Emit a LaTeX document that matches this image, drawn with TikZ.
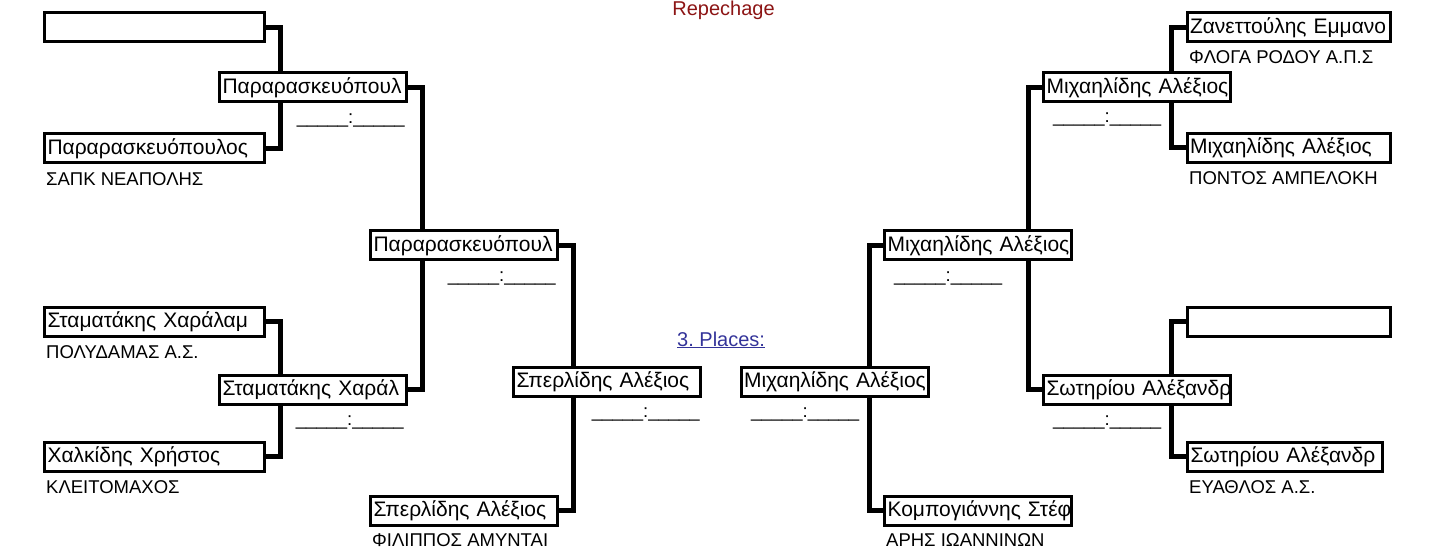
\documentclass[tikz,border=0pt]{standalone}
\usepackage{fontspec}
\setmainfont{Liberation Sans}
\usepackage{xcolor}
\usepackage{tikz}
\usetikzlibrary{backgrounds}
\definecolor{repred}{RGB}{140,20,20}
\definecolor{linkblue}{RGB}{51,51,153}

\begin{document}
\begin{tikzpicture}[x=1pt,y=-1pt,
		player/.style={draw,line width=3pt,fill=white,inner xsep=3pt,inner ysep=0pt,minimum height=29pt,
			text height=15.5pt,text depth=3.5pt,align=left,font=\fontsize{21}{25}\selectfont},
		first/.style={player,text width=214pt},
		second/.style={player,text width=181pt},
		club/.style={anchor=base west,inner sep=0pt,font=\fontsize{18.5}{22}\selectfont},
		score/.style={inner sep=0pt,font=\fontsize{18.5}{22}\selectfont},
		wire/.style={draw,line width=5pt}]
		\useasboundingbox (0,0) rectangle (1440,547);
		% titles
		\node[anchor=base,inner sep=0pt,text=repred,font=\fontsize{20}{24}\selectfont] (rep) at (723.5,15) {Repechage};
		\node[anchor=base west,inner sep=0pt,text=linkblue,font=\fontsize{20}{24}\selectfont] (pl) at (677,346) {\underline{3.\ Places:}};
		% left side
		\node[first] (A1) at (154.5,27) {};
		\node[first] (A2) at (154.5,148) {Παραρασκευόπουλος};
		\node[first] (A3) at (154.5,321.5) {Σταματάκης~Χαράλαμ};
		\node[first] (A4) at (154.5,456.5) {Χαλκίδης~Χρήστος};
		\node[second] (B1) at (313,87) {Παραρασκευόπουλ};
		\node[second] (B2) at (313,389.5) {Σταματάκης~Χαράλ};
		\node[second] (C1) at (464,245) {Παραρασκευόπουλ};
		\node[second] (D1) at (607,381.5) {Σπερλίδης~Αλέξιος};
		\node[second] (D2) at (464,510.5) {Σπερλίδης~Αλέξιος};
		% right side
		\node[player,text width=197pt] (E1) at (1288.5,27) {Ζανεττούλης~Εμμανο};
		\node[player,text width=197pt] (E2) at (1288.5,147.5) {Μιχαηλίδης~Αλέξιος};
		\node[player,text width=197pt] (E3) at (1288.5,321.5) {};
		\node[player,text width=189pt] (E4) at (1285,456.5) {Σωτηρίου~Αλέξανδρ};
		\node[second] (F1) at (1137,87) {Μιχαηλίδης~Αλέξιος};
		\node[second] (F2) at (1137,389.5) {Σωτηρίου~Αλέξανδρ};
		\node[second] (G1) at (978,245) {Μιχαηλίδης~Αλέξιος};
		\node[second] (H1) at (834.5,381.5) {Μιχαηλίδης~Αλέξιος};
		\node[second] (H2) at (978,510.5) {Κομπογιάννης~Στέφ};
		% clubs
		\node[club] (a2) at (46,185) {ΣΑΠΚ ΝΕΑΠΟΛΗΣ};
		\node[club] (a3) at (46,358) {ΠΟΛΥΔΑΜΑΣ Α.Σ.};
		\node[club] (a4) at (46,493) {ΚΛΕΙΤΟΜΑΧΟΣ};
		\node[club] (d2) at (372,546) {ΦΙΛΙΠΠΟΣ ΑΜΥΝΤΑΙ};
		\node[club] (e1) at (1189,63) {ΦΛΟΓΑ ΡΟΔΟΥ Α.Π.Σ};
		\node[club] (e2) at (1189,184) {ΠΟΝΤΟΣ ΑΜΠΕΛΟΚΗ};
		\node[club] (e4) at (1189,493) {ΕΥΑΘΛΟΣ Α.Σ.};
		\node[club] (h2) at (886,546) {ΑΡΗΣ ΙΩΑΝΝΙΝΩΝ};
		% scores
		\node[score,anchor=base east] (sB1) at (405,123) {\_\_\_\_\_:\_\_\_\_\_};
		\node[score,anchor=base east] (sB2) at (404,425) {\_\_\_\_\_:\_\_\_\_\_};
		\node[score,anchor=base east] (sC1) at (556,281) {\_\_\_\_\_:\_\_\_\_\_};
		\node[score,anchor=base east] (sD1) at (700,417) {\_\_\_\_\_:\_\_\_\_\_};
		\node[score,anchor=base west] (sF1) at (1053,122) {\_\_\_\_\_:\_\_\_\_\_};
		\node[score,anchor=base west] (sF2) at (1053,425) {\_\_\_\_\_:\_\_\_\_\_};
		\node[score,anchor=base west] (sG1) at (894,281) {\_\_\_\_\_:\_\_\_\_\_};
		\node[score,anchor=base west] (sH1) at (751,417) {\_\_\_\_\_:\_\_\_\_\_};
		%
		\begin{scope}[on background layer]
			\path[wire]
			% left brackets
			(A1.east) -- ++(14,0) |- (A2.east)
			(A3.east) -- ++(14,0) |- (A4.east)
			(B1.east) -- ++(14,0) |- (B2.east)
			(C1.east) -- ++(14,0) |- (D2.east)
			% right brackets
			(E1.west) -- ++(-14,0) |- (E2.west)
			(E3.west) -- ++(-14,0) |- (E4.west)
			(F1.west) -- ++(-14,0) |- (F2.west)
			(G1.west) -- ++(-14,0) |- (H2.west);
		\end{scope}
	\end{tikzpicture}
\end{document}
